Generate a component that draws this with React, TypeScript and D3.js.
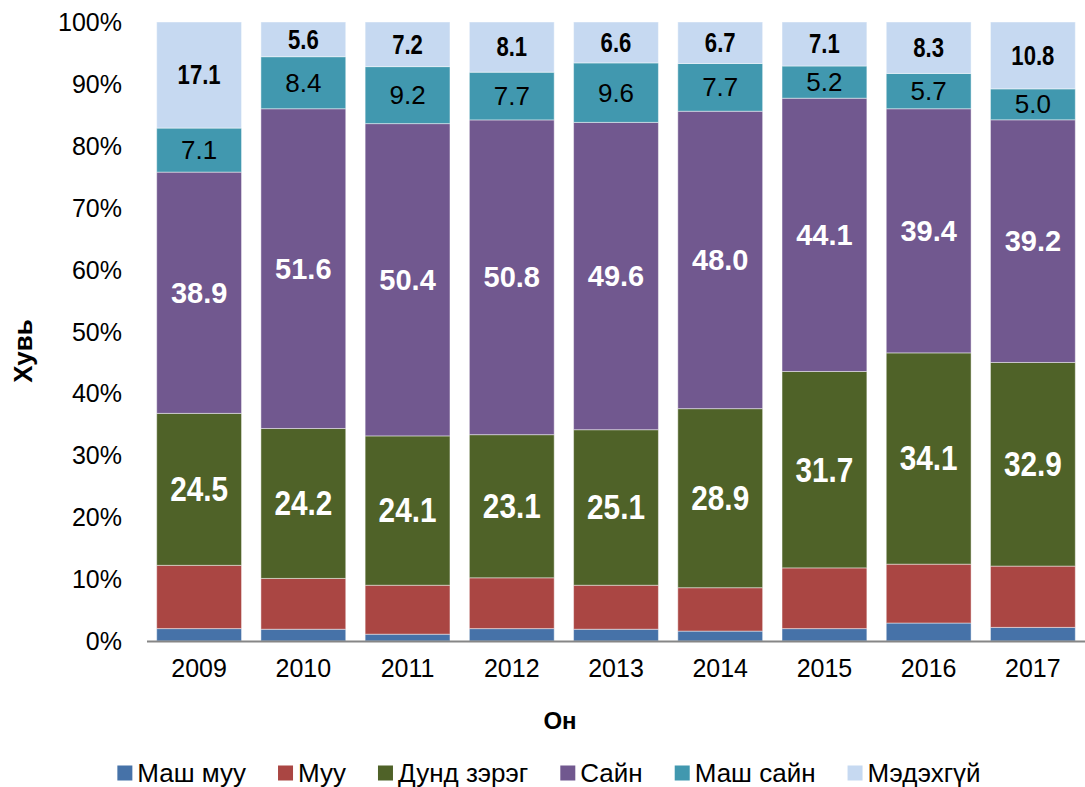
import React from 'react';
import * as d3 from 'd3';

const years = ['2009', '2010', '2011', '2012', '2013', '2014', '2015', '2016', '2017'];
const seriesNames = ['Маш муу', 'Муу', 'Дунд зэрэг', 'Сайн', 'Маш сайн', 'Мэдэхгүй'];
const mashMuu = [2.0, 1.9, 1.1, 2.0, 1.9, 1.6, 2.0, 2.9, 2.2];
const muu = [10.2, 8.2, 7.9, 8.2, 7.1, 7.0, 9.8, 9.5, 9.9];
const dund = [24.5, 24.2, 24.1, 23.1, 25.1, 28.9, 31.7, 34.1, 32.9];
const sain = [38.9, 51.6, 50.4, 50.8, 49.6, 48.0, 44.1, 39.4, 39.2];
const mashSain = [7.1, 8.4, 9.2, 7.7, 9.6, 7.7, 5.2, 5.7, 5.0];
const medehgui = [17.1, 5.6, 7.2, 8.1, 6.6, 6.7, 7.1, 8.3, 10.8];
const yTicks = [0, 0.1, 0.2, 0.3, 0.4, 0.5, 0.6, 0.7, 0.8, 0.9, 1.0];

const colors = ['#4672A8', '#AA4643', '#4F6228', '#71588F', '#4198AF', '#C6D9F1'];
const FONT = '"Liberation Sans", Arial, sans-serif';

type LabelStyle = { show: boolean; fill: string; weight: string; size: number; sx: number };
const labelStyles: LabelStyle[] = [
  { show: false, fill: '#000', weight: 'normal', size: 24, sx: 1 },
  { show: false, fill: '#000', weight: 'normal', size: 24, sx: 1 },
  { show: true, fill: '#fff', weight: 'bold', size: 35, sx: 0.85 },
  { show: true, fill: '#fff', weight: 'bold', size: 29, sx: 1 },
  { show: true, fill: '#000', weight: 'normal', size: 26, sx: 1 },
  { show: true, fill: '#000', weight: 'bold', size: 27, sx: 0.82 },
];

function measure(text: string, font: string): number {
  const c = document.createElement('canvas');
  const ctx = c.getContext('2d');
  if (!ctx) return text.length * 12;
  ctx.font = font;
  return ctx.measureText(text).width;
}

export default function App() {
  const W = 1085;
  const H = 787;
  const left = 147;
  const right = 1085;
  const top = 22;
  const bottom = 641;

  const allSeries = [mashMuu, muu, dund, sain, mashSain, medehgui];
  const rows = years.map((y, i) => {
    const r: Record<string, number | string> = { year: y };
    seriesNames.forEach((n, k) => (r[n] = allSeries[k][i]));
    return r;
  });
  const stack = d3
    .stack<Record<string, number | string>>()
    .keys(seriesNames)
    .value((d, key) => d[key] as number)
    .offset(d3.stackOffsetExpand);
  const stacked = stack(rows);

  const x = d3.scaleBand<string>().domain(years).range([left, right]).paddingInner(0.186).paddingOuter(0.093);
  const y = d3.scaleLinear().domain([0, 1]).range([bottom, top]);

  // legend layout
  const legSize = 26;
  const legFont = `${legSize}px ${FONT}`;
  const sq = 15;
  const sqGap = 5;
  const itemGap = 32;
  const widths = seriesNames.map((n) => measure(n, legFont));
  const itemW = widths.map((w) => sq + sqGap + w);
  const totalW = d3.sum(itemW) + itemGap * (seriesNames.length - 1);
  const legCenter = 549;
  let cursor = legCenter - totalW / 2;
  const legendX = itemW.map((w) => {
    const s = cursor;
    cursor += w + itemGap;
    return s;
  });
  const legY = 773;

  return (
    <svg width={W} height={H} style={{ position: 'absolute', left: 0, top: 0, background: '#fff' }} fontFamily={FONT}>
      {/* y tick labels */}
      {yTicks.map((t) => (
        <text key={t} x={122} y={y(t)} textAnchor="end" dominantBaseline="central" fontSize={25} fill="#000">
          {d3.format('.0%')(t)}
        </text>
      ))}
      {/* bars */}
      {stacked.map((s, k) => (
        <g key={s.key} fill={colors[k]}>
          {s.map((d, i) => (
            <rect
              key={i}
              x={x(years[i])}
              y={y(d[1])}
              width={x.bandwidth()}
              height={y(d[0]) - y(d[1])}
              stroke="rgba(255,255,255,0.45)"
              strokeWidth={1}
            />
          ))}
        </g>
      ))}
      {/* labels */}
      {stacked.map((s, k) => {
        const st = labelStyles[k];
        if (!st.show) return null;
        return (
          <g key={'l' + s.key}>
            {s.map((d, i) => {
              const cx = (x(years[i]) as number) + x.bandwidth() / 2;
              const cy = y((d[0] + d[1]) / 2);
              return (
                <text
                  key={i}
                  transform={`translate(${cx},${cy}) scale(${st.sx},1)`}
                  textAnchor="middle"
                  dominantBaseline="central"
                  fontSize={st.size}
                  fontWeight={st.weight}
                  fill={st.fill}
                >
                  {d3.format('.1f')(allSeries[k][i])}
                </text>
              );
            })}
          </g>
        );
      })}
      {/* x axis line */}
      <line x1={left} x2={right} y1={bottom + 0.5} y2={bottom + 0.5} stroke="#868686" strokeWidth={2} />
      {/* x tick labels */}
      {years.map((yr) => (
        <text
          key={yr}
          x={(x(yr) as number) + x.bandwidth() / 2}
          y={668}
          textAnchor="middle"
          dominantBaseline="central"
          fontSize={25}
          fill="#000"
        >
          {yr}
        </text>
      ))}
      {/* axis titles */}
      <text x={560} y={720} textAnchor="middle" dominantBaseline="central" fontSize={24} fontWeight="bold">
        Он
      </text>
      <text
        transform={`translate(23,351) rotate(-90)`}
        textAnchor="middle"
        dominantBaseline="central"
        fontSize={26}
        fontWeight="bold"
      >
        Хувь
      </text>
      {/* legend */}
      {seriesNames.map((n, k) => (
        <g key={'lg' + n} transform={`translate(${legendX[k]},${legY})`}>
          <rect x={0} y={-sq / 2} width={sq} height={sq} fill={colors[k]} />
          <text x={sq + sqGap} y={0} dominantBaseline="central" fontSize={legSize} fill="#000">
            {n}
          </text>
        </g>
      ))}
    </svg>
  );
}
